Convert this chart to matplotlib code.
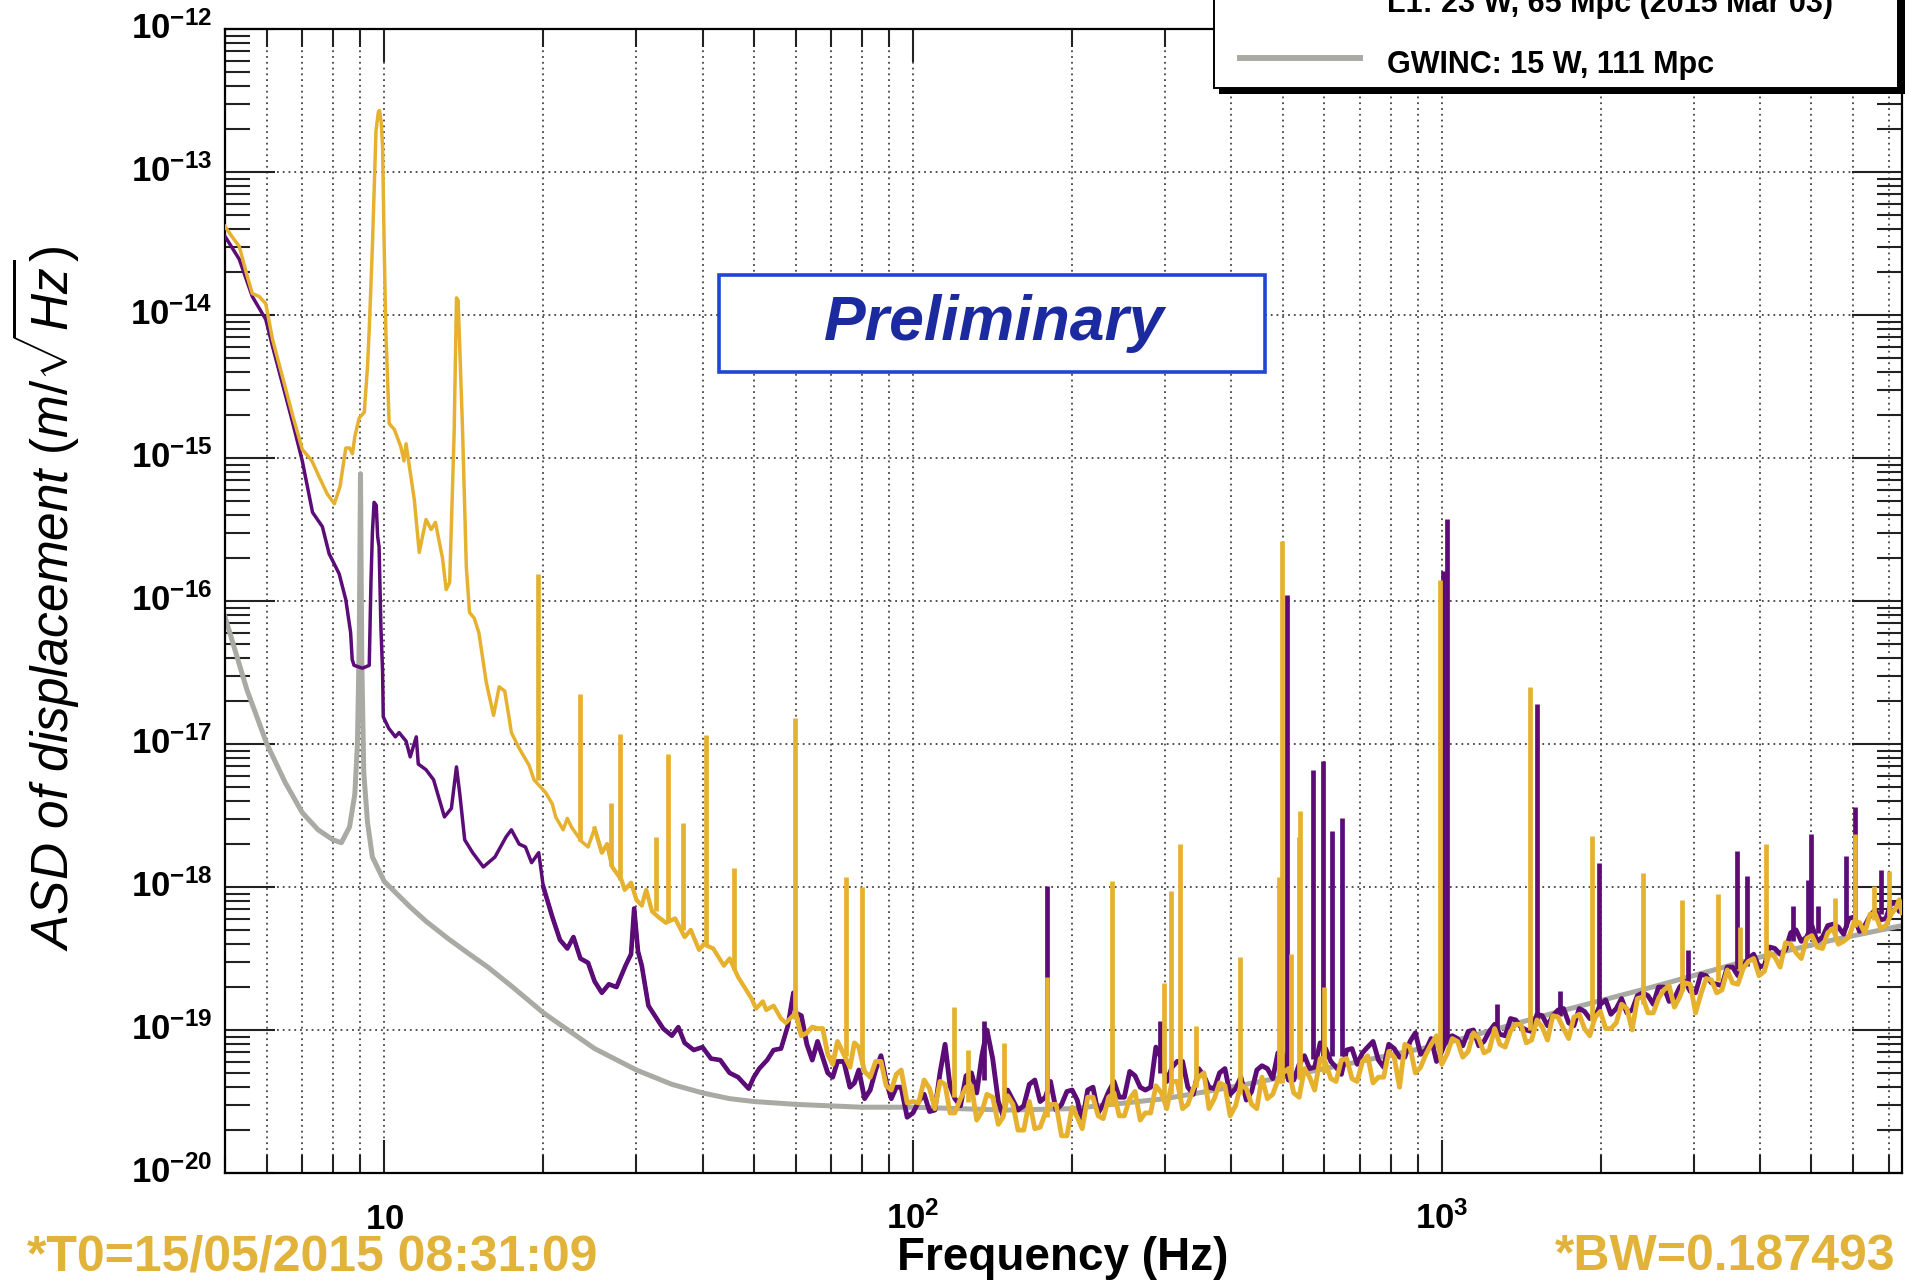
import numpy as np
import matplotlib
matplotlib.use("Agg")
import matplotlib.pyplot as plt
from matplotlib.patches import Rectangle
from matplotlib.lines import Line2D
from matplotlib.transforms import blended_transform_factory
from matplotlib.ticker import FixedLocator, NullFormatter

plt.rcParams['font.family'] = ['Liberation Sans', 'DejaVu Sans']
plt.rcParams['mathtext.fontset'] = 'custom'
plt.rcParams['mathtext.rm'] = 'Liberation Sans'
plt.rcParams['mathtext.it'] = 'Liberation Sans:italic'
plt.rcParams['mathtext.bf'] = 'Liberation Sans:bold'

# --- spectra (frequency in Hz, ASD given as log10 of m/sqrt(Hz)) ---

# GWINC design curve
gwinc_freq = [5.0, 5.5, 6.0, 6.5, 7.0, 7.5, 8.0, 8.3, 8.6, 8.8,
              8.9, 8.97, 9.02, 9.07, 9.15, 9.3, 9.5, 10.0, 11.2, 12.0,
              13.2, 14.5, 15.7, 17.5, 20, 23.7, 25, 30, 35, 40,
              45, 50, 60, 80, 100, 150, 200, 300, 400, 500,
              700, 1000, 1670, 2500, 4000, 5500, 7420]
gwinc_log10 = [-16.11, -16.62, -17.0, -17.27, -17.48, -17.60, -17.67, -17.69, -17.58, -17.35,
               -17.0, -16.3, -15.11, -16.4, -17.2, -17.55, -17.79, -17.96, -18.14, -18.24,
               -18.36, -18.47, -18.56, -18.70, -18.88, -19.07, -19.13, -19.28, -19.38, -19.44,
               -19.48, -19.50, -19.52, -19.54, -19.54, -19.56, -19.55, -19.48, -19.40, -19.33,
               -19.22, -19.10, -18.87, -18.70, -18.49, -18.37, -18.27]

# L1, low frequency part
l1_low_freq = [5.0, 5.32, 5.63, 5.97, 6.15, 6.42, 6.7, 7.0, 7.32, 7.64,
               7.87, 8.22, 8.46, 8.64, 8.7, 8.77, 9.1, 9.37, 9.44, 9.5,
               9.57, 9.66, 9.72, 9.78, 9.86, 9.93, 9.96, 10.2, 10.5, 10.67,
               11.0, 11.2, 11.5, 11.6, 12.0, 12.4, 13.0, 13.4, 13.7, 13.9,
               14.2, 14.7, 15.4, 16.2, 17.0, 17.4, 18.0, 18.5, 19.0, 19.6,
               20.0, 20.8, 21.5, 22.2, 22.8, 23.5, 24.3, 25.0, 25.8, 26.6,
               27.5, 28.6, 29.3, 29.7, 30.2, 30.7, 31.6, 32.5, 33.7, 35.0,
               36.0, 37.0, 38.5, 40.0, 41.5, 43.2, 45.0, 46.7, 48.9, 50.0,
               51.2, 53.0, 54.5, 56.3, 58.0, 59.4]
l1_low_log10 = [-13.45, -13.61, -13.87, -14.03, -14.22, -14.48, -14.74, -15.02, -15.38, -15.48,
                -15.67, -15.81, -15.99, -16.22, -16.41, -16.45, -16.47, -16.45, -15.87, -15.52,
                -15.31, -15.33, -15.55, -15.62, -16.19, -16.49, -16.81, -16.89, -16.95, -16.92,
                -16.98, -17.09, -16.95, -17.14, -17.18, -17.25, -17.51, -17.45, -17.16, -17.35,
                -17.67, -17.76, -17.86, -17.79, -17.65, -17.60, -17.70, -17.72, -17.83, -17.76,
                -18.00, -18.21, -18.37, -18.43, -18.35, -18.50, -18.53, -18.66, -18.74, -18.68,
                -18.70, -18.55, -18.47, -18.15, -18.45, -18.55, -18.83, -18.90, -18.99, -19.04,
                -18.98, -19.09, -19.14, -19.12, -19.20, -19.21, -19.30, -19.33, -19.41, -19.33,
                -19.27, -19.21, -19.14, -19.13, -18.97, -18.74]

# H1, low frequency part
h1_low_freq = [5.0, 5.15, 5.32, 5.5, 5.63, 5.8, 5.97, 6.15, 6.42, 6.7,
               7.0, 7.3, 7.53, 7.8, 8.05, 8.25, 8.46, 8.6, 8.71, 8.8,
               8.97, 9.17, 9.3, 9.37, 9.5, 9.65, 9.75, 9.8, 9.87, 9.93,
               10.0, 10.07, 10.22, 10.45, 10.75, 10.9, 11.0, 11.15, 11.4, 11.65,
               12.0, 12.27, 12.5, 12.89, 13.1, 13.3, 13.56, 13.7, 13.8, 14.06,
               14.3, 14.5, 14.8, 15.1, 15.6, 16.1, 16.5, 16.9, 17.2, 17.4,
               18.0, 18.8, 19.2, 20.2, 20.8, 21.1, 21.8, 22.2, 22.6, 23.6,
               24.3, 25.0, 25.8, 26.4, 27.0, 28.1, 28.5, 29.3, 30.0, 30.7,
               31.3, 32.1, 33.0, 34.1, 35.5, 37.0, 38.0, 39.4, 40.2, 41.9,
               43.9, 45.0, 46.7, 48.0, 49.5, 50.5, 52.0, 52.8, 54.5, 56.3,
               57.5]
h1_low_log10 = [-13.38, -13.45, -13.52, -13.72, -13.85, -13.87, -13.92, -14.17, -14.43, -14.69,
                -14.94, -15.02, -15.13, -15.25, -15.32, -15.20, -14.93, -14.93, -14.97, -14.85,
                -14.72, -14.68, -14.36, -14.10, -13.52, -12.71, -12.58, -12.57, -12.65, -12.82,
                -13.52, -14.10, -14.76, -14.80, -14.92, -15.02, -14.90, -15.05, -15.29, -15.66,
                -15.43, -15.50, -15.45, -15.70, -15.92, -15.87, -14.83, -13.88, -13.90, -14.78,
                -15.76, -16.08, -16.12, -16.22, -16.57, -16.80, -16.60, -16.63, -16.80, -16.92,
                -17.03, -17.15, -17.25, -17.34, -17.42, -17.51, -17.60, -17.52, -17.58, -17.68,
                -17.72, -17.59, -17.76, -17.70, -17.86, -17.95, -18.02, -17.97, -18.09, -18.13,
                -18.02, -18.17, -18.21, -18.25, -18.22, -18.35, -18.30, -18.44, -18.40, -18.43,
                -18.55, -18.50, -18.63, -18.70, -18.78, -18.85, -18.80, -18.86, -18.83, -18.92,
                -18.95]

# noisy high frequency part, both detectors on the same frequencies
hf_freq = [60, 63, 66, 69, 72, 76, 79, 83, 87, 91, 95, 100,
           105, 110, 115, 120, 126, 132, 138, 145, 151, 158, 166, 174, 182, 191, 200,
           209, 219, 229, 240, 251, 263, 275, 288, 302, 316, 331, 347, 363, 380, 398,
           417, 437, 457, 479, 501, 525, 550, 575, 603, 631, 661, 692, 724, 759, 794,
           832, 871, 912, 955, 1000, 1047, 1096, 1148, 1202, 1259, 1318, 1380, 1445, 1514, 1585,
           1660, 1738, 1820, 1905, 1995, 2089, 2188, 2291, 2399, 2512, 2630, 2754, 2884, 3020, 3162,
           3311, 3467, 3631, 3802, 3981, 4169, 4365, 4571, 4786, 5012, 5248, 5495, 5754, 6026, 6310,
           6607, 6918, 7244, 7420]
h1_hf_log10 = [-18.88, -19.02, -18.99, -19.17, -19.08, -19.26, -19.12, -19.33, -19.22, -19.42, -19.28, -19.50,
               -19.35, -19.55, -19.38, -19.58, -19.40, -19.63, -19.45, -19.66, -19.46, -19.70, -19.50, -19.68, -19.52, -19.74, -19.54,
               -19.69, -19.47, -19.62, -19.44, -19.60, -19.43, -19.58, -19.39, -19.55, -19.36, -19.52, -19.33, -19.55, -19.37, -19.60,
               -19.38, -19.52, -19.33, -19.45, -19.30, -19.44, -19.27, -19.42, -19.23, -19.36, -19.20, -19.36, -19.18, -19.33, -19.15,
               -19.40, -19.12, -19.26, -19.10, -19.24, -19.06, -19.19, -19.02, -19.16, -18.99, -19.12, -18.96, -19.09, -18.93, -19.07,
               -18.91, -19.06, -18.89, -19.04, -18.87, -18.99, -18.82, -19.00, -18.77, -18.88, -18.72, -18.84, -18.67, -18.88, -18.64,
               -18.74, -18.58, -18.68, -18.52, -18.62, -18.46, -18.56, -18.40, -18.50, -18.34, -18.43, -18.29, -18.38, -18.24, -18.32,
               -18.19, -18.27, -18.14, -18.18]
l1_hf_log10 = [-18.88, -19.10, -19.08, -19.30, -19.22, -19.40, -19.28, -19.42, -19.18, -19.48, -19.40, -19.58,
               -19.45, -19.56, -19.10, -19.48, -19.32, -19.44, -19.00, -19.50, -19.42, -19.56, -19.38, -19.50, -19.36, -19.52, -19.42,
               -19.64, -19.40, -19.52, -19.36, -19.47, -19.32, -19.42, -19.12, -19.36, -19.22, -19.40, -19.27, -19.40, -19.30, -19.45,
               -19.33, -19.43, -19.25, -19.34, -19.17, -19.35, -19.18, -19.26, -19.13, -19.26, -19.14, -19.24, -19.12, -19.21, -19.10,
               -19.19, -19.08, -19.17, -19.06, -19.15, -19.04, -19.11, -19.00, -19.08, -18.96, -19.04, -18.93, -19.00, -18.89, -18.97,
               -18.86, -18.95, -18.85, -18.92, -18.82, -18.89, -18.78, -18.86, -18.74, -18.82, -18.70, -18.78, -18.66, -18.74, -18.62,
               -18.68, -18.56, -18.62, -18.50, -18.56, -18.42, -18.47, -18.32, -18.38, -18.27, -18.35, -18.26, -18.33, -18.21, -18.27,
               -18.16, -18.22, -18.12, -18.15]

# extra samples between the ones above (the noise is finer than that spacing)
hf_mid_freq = [61.5, 64.5, 67.5, 70.5, 74, 77.5, 81, 85, 89, 93, 97.5,
               102.5, 107.5, 112.5, 117.5, 123, 129, 135, 141.5, 148, 154.5, 162, 170, 178, 186.5, 195.5,
               204.5, 214, 224, 234.5, 245.5, 257, 269, 281.5, 295, 309, 323.5, 339, 355, 371.5, 389,
               407.5, 427, 447, 468, 490, 513, 537.5, 562.5, 589, 617, 646, 676.5, 708, 741.5, 776.5,
               813, 851.5, 891.5, 933.5, 977.5, 1023, 1071, 1122, 1175, 1230, 1288, 1349, 1412, 1479, 1549,
               1622, 1699, 1778, 1862, 1950, 2042, 2138, 2239, 2344, 2455, 2570, 2692, 2818, 2951, 3090,
               3236, 3388, 3548, 3715, 3890, 4074, 4266, 4467, 4677, 4898, 5129, 5370, 5623, 5888, 6166,
               6457, 6761, 7079, 7330]
h1_mid_log10 = [-19.04, -18.98, -18.99, -19.24, -19.17, -19.09, -19.29, -19.22, -19.39, -19.31, -19.51,
                -19.51, -19.41, -19.36, -19.58, -19.48, -19.39, -19.57, -19.47, -19.61, -19.52, -19.70, -19.69, -19.58, -19.52, -19.74,
                -19.61, -19.47, -19.60, -19.47, -19.60, -19.48, -19.63, -19.58, -19.44, -19.36, -19.55, -19.41, -19.30, -19.48, -19.39,
                -19.53, -19.41, -19.55, -19.48, -19.35, -19.27, -19.47, -19.33, -19.20, -19.34, -19.21, -19.34, -19.22, -19.37, -19.33,
                -19.19, -19.10, -19.30, -19.17, -19.04, -19.17, -19.08, -19.15, -19.06, -19.14, -19.10, -19.01, -18.96, -19.07, -18.98,
                -18.90, -18.99, -18.91, -18.99, -18.91, -18.99, -18.95, -18.85, -18.78, -18.88, -18.78, -18.69, -18.77, -18.68, -18.75,
                -18.65, -18.72, -18.67, -18.57, -18.50, -18.59, -18.49, -18.39, -18.46, -18.36, -18.42, -18.32, -18.40, -18.35, -18.25,
                -18.19, -18.29, -18.19, -18.09]
l1_mid_log10 = [-18.90, -19.21, -19.19, -19.33, -19.22, -19.37, -19.48, -19.28, -19.36, -19.40, -19.61,
                -19.50, -19.57, -19.30, -19.39, -19.53, -19.30, -19.18, -19.20, -19.60, -19.49, -19.53, -19.35, -19.47, -19.56, -19.43,
                -19.49, -19.42, -19.58, -19.43, -19.47, -19.29, -19.40, -19.40, -19.20, -19.26, -19.22, -19.45, -19.32, -19.41, -19.27,
                -19.41, -19.49, -19.28, -19.27, -19.16, -19.35, -19.24, -19.27, -19.09, -19.22, -19.31, -19.13, -19.16, -19.08, -19.26,
                -19.13, -19.19, -19.02, -19.14, -19.22, -19.06, -19.06, -19.01, -19.11, -19.01, -19.03, -18.92, -18.98, -19.01, -18.90,
                -18.90, -18.85, -18.97, -18.87, -18.91, -18.79, -18.85, -18.88, -18.76, -18.76, -18.70, -18.80, -18.70, -18.73, -18.61,
                -18.67, -18.69, -18.56, -18.55, -18.47, -18.55, -18.43, -18.44, -18.30, -18.35, -18.38, -18.27, -18.28, -18.22, -18.31,
                -18.20, -18.23, -18.11, -18.17]

# narrow lines: frequency, floor and peak (log10)
h1_lines_freq = [19.5, 23.5, 26.9, 27.9, 32.7, 34.4, 36.7, 40.6, 45.8, 59.7,
                 74.6, 80.0, 119.6, 127, 148.5, 179, 238, 298, 308, 320,
                 343, 415, 492, 499, 519, 536, 540, 600, 991, 1467,
                 1920, 2398, 2842, 3330, 3670, 4100, 5534, 6046, 6555, 7000]
h1_lines_floor = [-17.25, -17.68, -17.85, -17.95, -18.17, -18.24, -18.30, -18.41, -18.58, -18.92,
                  -19.18, -19.24, -19.47, -19.50, -19.53, -19.61, -19.53, -19.46, -19.45, -19.44,
                  -19.40, -19.45, -19.37, -19.37, -19.36, -19.34, -19.34, -19.30, -19.16, -19.00,
                  -18.94, -18.82, -18.73, -18.66, -18.59, -18.52, -18.33, -18.28, -18.23, -18.20]
h1_lines_peak = [-15.81, -16.65, -17.41, -16.93, -17.65, -17.07, -17.55, -16.94, -17.87, -16.82,
                 -17.93, -18.00, -18.84, -19.14, -19.09, -18.63, -17.96, -18.67, -18.03, -17.70,
                 -18.97, -18.49, -17.93, -15.58, -18.47, -17.65, -17.47, -18.70, -15.85, -16.60,
                 -17.64, -17.90, -18.09, -18.05, -18.28, -17.70, -18.08, -17.63, -17.99, -17.89]

l1_lines_freq = [136, 179, 293, 510, 571, 596, 620, 648, 1005, 1025, 1270, 1511,
                 1672, 1985, 2925, 3611, 3772, 4622, 4935, 4985, 5140, 5818, 6046, 6760]
l1_lines_floor = [-19.35, -19.45, -19.30, -19.25, -19.20, -19.18, -19.18, -19.18, -19.10, -19.10, -19.00, -18.93,
                  -18.90, -18.86, -18.70, -18.57, -18.55, -18.38, -18.33, -18.33, -18.32, -18.28, -18.25, -18.19]
l1_lines_peak = [-18.94, -17.99, -18.94, -15.96, -17.18, -17.12, -17.61, -17.52, -15.79, -15.43, -18.82, -16.72,
                 -18.73, -17.83, -18.44, -17.75, -17.92, -18.13, -17.95, -17.63, -18.13, -17.78, -17.44, -17.88]

# axis ticks and labels
x_major = [10, 100, 1000]
x_major_labels = [r'$\mathbf{10}$', r'$\mathbf{10^{2}}$', r'$\mathbf{10^{3}}$']
y_exponents = [-12, -13, -14, -15, -16, -17, -18, -19, -20]

legend_entries = ['L1: 23 W, 65 Mpc (2015 Mar 03)', 'GWINC: 15 W, 111 Mpc']

GOLD = '#E6B12E'
PURPLE = '#5B0C77'
GRAY = '#A9AAA3'
TEXT_GOLD = '#E2B33A'
BOX_BLUE = '#1F45D6'
TEXT_BLUE = '#1B2A9E'
GRID = '#444444'

W_PX, H_PX = 1905, 1282


def fig_x(px):
    return px / W_PX


def fig_y(py):
    return 1.0 - py / H_PX


def asd(log_values):
    return 10.0 ** np.asarray(log_values)


def merged(freq_a, vals_a, freq_b, vals_b):
    f = np.concatenate([freq_a, freq_b])
    v = np.concatenate([vals_a, vals_b])
    order = np.argsort(f)
    return f[order], v[order]


fig = plt.figure(figsize=(W_PX / 100, H_PX / 100), dpi=100)
ax = fig.add_axes([fig_x(225), fig_y(1173), fig_x(1902) - fig_x(225), fig_y(29) - fig_y(1173)])

ax.plot(gwinc_freq, asd(gwinc_log10), color=GRAY, lw=3.6, solid_joinstyle='round', zorder=2)

# L1: smooth part, then the noisy part drawn heavier so it reads as a band
l1_f, l1_v = merged(hf_freq, l1_hf_log10, hf_mid_freq, l1_mid_log10)
l1_curve_f = np.array(l1_low_freq + hf_freq[:1])
l1_curve_v = np.array(l1_low_log10 + l1_hf_log10[:1])
ax.plot(l1_curve_f, asd(l1_curve_v), color=PURPLE, lw=2.5, zorder=3)
noisy = l1_curve_f >= 20
ax.plot(l1_curve_f[noisy], asd(l1_curve_v[noisy]), color=PURPLE, lw=3.3, zorder=3)
ax.plot(l1_f, asd(l1_v), color=PURPLE, lw=3.5, zorder=3)
ax.vlines(l1_lines_freq, asd(l1_lines_floor), asd(l1_lines_peak), colors=PURPLE, lw=3.4, zorder=3)

h1_f, h1_v = merged(hf_freq, h1_hf_log10, hf_mid_freq, h1_mid_log10)
h1_curve_f = np.array(h1_low_freq + hf_freq[:1])
h1_curve_v = np.array(h1_low_log10 + h1_hf_log10[:1])
ax.plot(h1_curve_f, asd(h1_curve_v), color=GOLD, lw=2.5, zorder=4)
noisy = h1_curve_f >= 25
ax.plot(h1_curve_f[noisy], asd(h1_curve_v[noisy]), color=GOLD, lw=3.0, zorder=4)
ax.plot(h1_f, asd(h1_v), color=GOLD, lw=3.5, zorder=4)
ax.vlines(h1_lines_freq, asd(h1_lines_floor), asd(h1_lines_peak), colors=GOLD, lw=3.4, zorder=4)

ax.set_xscale('log')
ax.set_yscale('log')
ax.set_xlim(5, 7420)
ax.set_ylim(1e-20, 1e-12)

x_minor = [m * d for d in (1, 10, 100, 1000) for m in range(2, 10) if 5 <= m * d <= 7420]
y_major = [10.0 ** e for e in y_exponents]
y_minor = [m * 10.0 ** e for e in y_exponents[1:] for m in range(2, 10)]
ax.xaxis.set_major_locator(FixedLocator(x_major))
ax.xaxis.set_minor_locator(FixedLocator(x_minor))
ax.yaxis.set_major_locator(FixedLocator(y_major))
ax.yaxis.set_minor_locator(FixedLocator(y_minor))
for axis in (ax.xaxis, ax.yaxis):
    axis.set_major_formatter(NullFormatter())
    axis.set_minor_formatter(NullFormatter())

ax.tick_params(which='both', direction='in', top=True, right=True, width=1.5, color='#222222')
ax.tick_params(axis='y', which='major', length=36)
ax.tick_params(axis='y', which='minor', length=18)
ax.tick_params(axis='x', which='major', length=24)
ax.tick_params(axis='x', which='minor', length=13)

ax.set_axisbelow(True)
ax.grid(which='major', axis='both', color=GRID, lw=1.3, ls=(0, (1, 2.2)))
ax.grid(which='minor', axis='x', color=GRID, lw=1.3, ls=(0, (1, 2.2)))
for sp in ax.spines.values():
    sp.set_linewidth(1.6)

# tick labels
tx = blended_transform_factory(ax.transData, ax.transAxes)
for v, lab in zip(x_major, x_major_labels):
    ax.text(v, -0.049, lab, transform=tx, ha='center', va='baseline', fontsize=25)
ty = blended_transform_factory(ax.transAxes, ax.transData)
for e, v in zip(y_exponents, y_major):
    ax.text(-0.0075, v, r'$\mathbf{10^{%d}}$' % e, transform=ty, ha='right', va='center', fontsize=25)

fig.text(fig_x(1063), fig_y(1270), 'Frequency (Hz)', ha='center', va='baseline',
         fontsize=33, fontweight='bold')
fig.text(fig_x(46), fig_y(598), r'ASD of displacement $\mathit{(m/}\sqrt{\mathit{Hz}}\mathit{)}$',
         rotation=90, ha='center', va='center', fontsize=37, fontstyle='italic')

fig.text(fig_x(27), fig_y(1270), '*T0=15/05/2015 08:31:09', ha='left', va='baseline',
         fontsize=36, fontweight='bold', color=TEXT_GOLD)
fig.text(fig_x(1895), fig_y(1270), '*BW=0.187493', ha='right', va='baseline',
         fontsize=36, fontweight='bold', color=TEXT_GOLD)

# "Preliminary" stamp
fig.add_artist(Rectangle((fig_x(719), fig_y(372)), fig_x(1265) - fig_x(719), fig_y(275) - fig_y(372),
                         transform=fig.transFigure, facecolor='white', edgecolor=BOX_BLUE,
                         lw=2.6, zorder=10))
fig.text(fig_x(994), fig_y(324), 'Preliminary', ha='center', va='center', fontsize=45,
         fontweight='bold', fontstyle='italic', color=TEXT_BLUE, zorder=11)

# legend box with shadow, running off the top edge
fig.add_artist(Rectangle((fig_x(1219), fig_y(94)), fig_x(1905) - fig_x(1219), 0.3,
                         transform=fig.transFigure, facecolor='black', edgecolor='none', zorder=12))
fig.add_artist(Rectangle((fig_x(1214), fig_y(88)), fig_x(1898) - fig_x(1214), 0.3,
                         transform=fig.transFigure, facecolor='white', edgecolor='black',
                         lw=1.4, zorder=13))
for (label, color, lw), row_y in zip([(legend_entries[0], PURPLE, 2.2), (legend_entries[1], GRAY, 4.3)],
                                     [12, 73]):
    fig.add_artist(Line2D([fig_x(1240), fig_x(1360)], [fig_y(row_y - 15)] * 2, color=color, lw=lw,
                          transform=fig.transFigure, zorder=14))
    fig.text(fig_x(1387), fig_y(row_y), label, ha='left', va='baseline', fontsize=22,
             fontweight='bold', zorder=14)

fig.savefig('out.png', dpi=100)
